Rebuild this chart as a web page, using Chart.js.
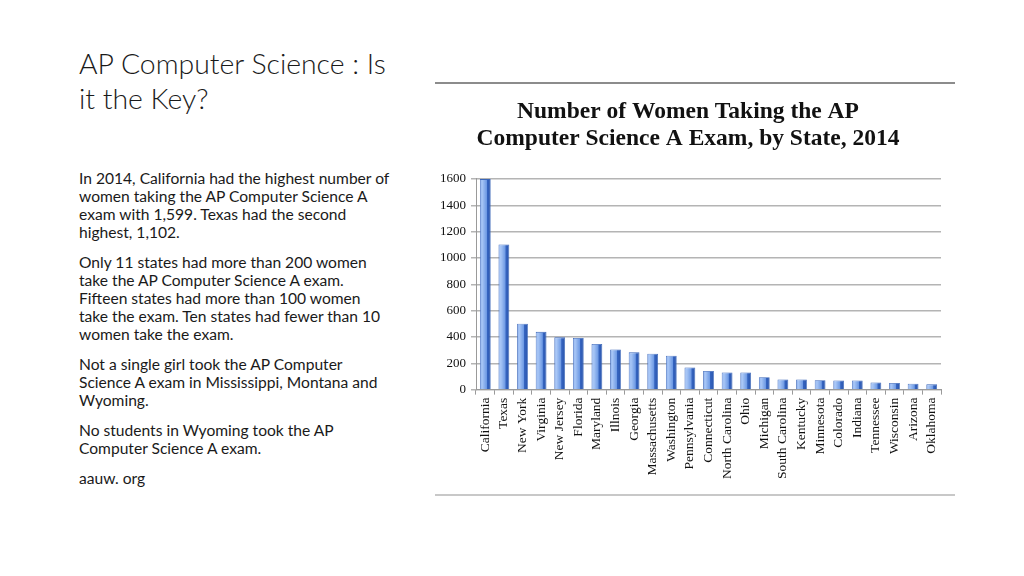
<!DOCTYPE html>
<html lang="en">
<head>
    <meta charset="UTF-8">
    <title>AP Computer Science : Is it the Key?</title>
    <script src="https://cdn.jsdelivr.net/npm/chart.js"></script>
    <style>
        body {
            margin: 0;
            width: 1024px;
            height: 576px;
            background: #ffffff;
            position: relative;
            overflow: hidden;
            font-family: Lato, "Open Sans", sans-serif;
            color: #1a1a1a;
        }
        #title {
            position: absolute;
            left: 79px;
            top: 46px;
            font-size: 28.4px;
            font-weight: 300;
            line-height: 35px;
        }
        #text {
            position: absolute;
            left: 79px;
            top: 169px;
            font-size: 15.6px;
            line-height: 18px;
        }
        #text p { margin: 0 0 12px 0; }
        #frame {
            position: absolute;
            left: 435px;
            top: 82px;
            width: 520px;
            height: 410px;
            border-top: 2px solid #8c8c8c;
            border-bottom: 2px solid #c8c8c8;
        }
        #wrap {
            position: absolute;
            left: 435px;
            top: 90px;
            width: 520px;
            height: 398px;
        }
    </style>
</head>
<body>
    <div id="title">AP Computer Science : Is<br>it the Key?</div>
    <div id="text">
        <p>In 2014, California had the highest number of<br>women taking the AP Computer Science A<br>exam with 1,599. Texas had the second<br>highest, 1,102.</p>
        <p>Only 11 states had more than 200 women<br>take the AP Computer Science A exam.<br>Fifteen states had more than 100 women<br>take the exam. Ten states had fewer than 10<br>women take the exam.</p>
        <p>Not a single girl took the AP Computer<br>Science A exam in Mississippi, Montana and<br>Wyoming.</p>
        <p>No students in Wyoming took the AP<br>Computer Science A exam.</p>
        <p>aauw. org</p>
    </div>
    <div id="frame"></div>
    <div id="wrap"><canvas id="myChart"></canvas></div>
    <script>
        const states = ['California', 'Texas', 'New York', 'Virginia', 'New Jersey', 'Florida',
            'Maryland', 'Illnois', 'Georgia', 'Massachusetts', 'Washington', 'Pennsylvania',
            'Connecticut', 'North Carolina', 'Ohio', 'Michigan', 'South Carolina', 'Kentucky',
            'Minnesota', 'Colorado', 'Indiana', 'Tennessee', 'Wisconsin', 'Arizona', 'Oklahoma'];
        const women = [1599, 1102, 501, 439, 397, 392, 347, 305, 283, 273, 258, 169,
            141, 131, 131, 94, 77, 77, 72, 69, 69, 55, 50, 45, 40];
        const yTicks = [0, 200, 400, 600, 800, 1000, 1200, 1400, 1600];
        const titleLines = ['Number of Women Taking the AP', 'Computer Science A Exam, by State, 2014'];

        const barPct = 0.58;

        // light front face and darker side face, like the 3D bars of the original
        function barFill(context) {
            const chart = context.chart;
            const xs = chart.scales.x;
            if (!xs || !chart.chartArea) return '#6b9be6';
            const cx = xs.getPixelForValue(context.dataIndex);
            const w = (chart.chartArea.width / states.length) * barPct;
            const g = chart.ctx.createLinearGradient(cx - w / 2, 0, cx + w / 2, 0);
            g.addColorStop(0, '#86acee');
            g.addColorStop(0.2, '#a9c7f6');
            g.addColorStop(0.62, '#6e9ae4');
            g.addColorStop(0.68, '#3564c0');
            g.addColorStop(1, '#2b56ac');
            return g;
        }

        const ctx = document.getElementById('myChart').getContext('2d');
        const myChart = new Chart(ctx, {
            type: 'bar',
            data: {
                labels: states,
                datasets: [{
                    data: women,
                    backgroundColor: barFill,
                    borderColor: '#3a66b8',
                    borderWidth: 0.8,
                    barPercentage: barPct,
                    categoryPercentage: 1
                }]
            },
            options: {
                responsive: true,
                maintainAspectRatio: false,
                animation: false,
                layout: { padding: { left: 0, right: 14, top: 0, bottom: 6 } },
                plugins: {
                    legend: { display: false },
                    tooltip: { enabled: false },
                    title: {
                        display: true,
                        text: titleLines,
                        color: '#111111',
                        font: { family: '"Liberation Serif", serif', size: 23.5, weight: 'bold', lineHeight: 1.17 },
                        padding: { top: 8, bottom: 26 }
                    }
                },
                scales: {
                    x: {
                        grid: { display: true, drawOnChartArea: false, color: '#9a9a9a', tickLength: 5, offset: true },
                        border: { color: '#9a9a9a' },
                        ticks: {
                            color: '#111111',
                            font: { family: '"Liberation Serif", serif', size: 13.5 },
                            minRotation: 90,
                            maxRotation: 90,
                            autoSkip: false,
                            padding: 3
                        }
                    },
                    y: {
                        min: 0,
                        max: 1600,
                        afterBuildTicks: axis => { axis.ticks = yTicks.map(v => ({ value: v })); },
                        grid: { color: '#b4b4b4', lineWidth: 1.5, tickLength: 5 },
                        border: { color: '#9a9a9a' },
                        ticks: {
                            color: '#111111',
                            font: { family: '"Liberation Serif", serif', size: 13 },
                            padding: 5,
                            callback: v => String(v)
                        }
                    }
                }
            }
        });
    </script>
</body>
</html>
